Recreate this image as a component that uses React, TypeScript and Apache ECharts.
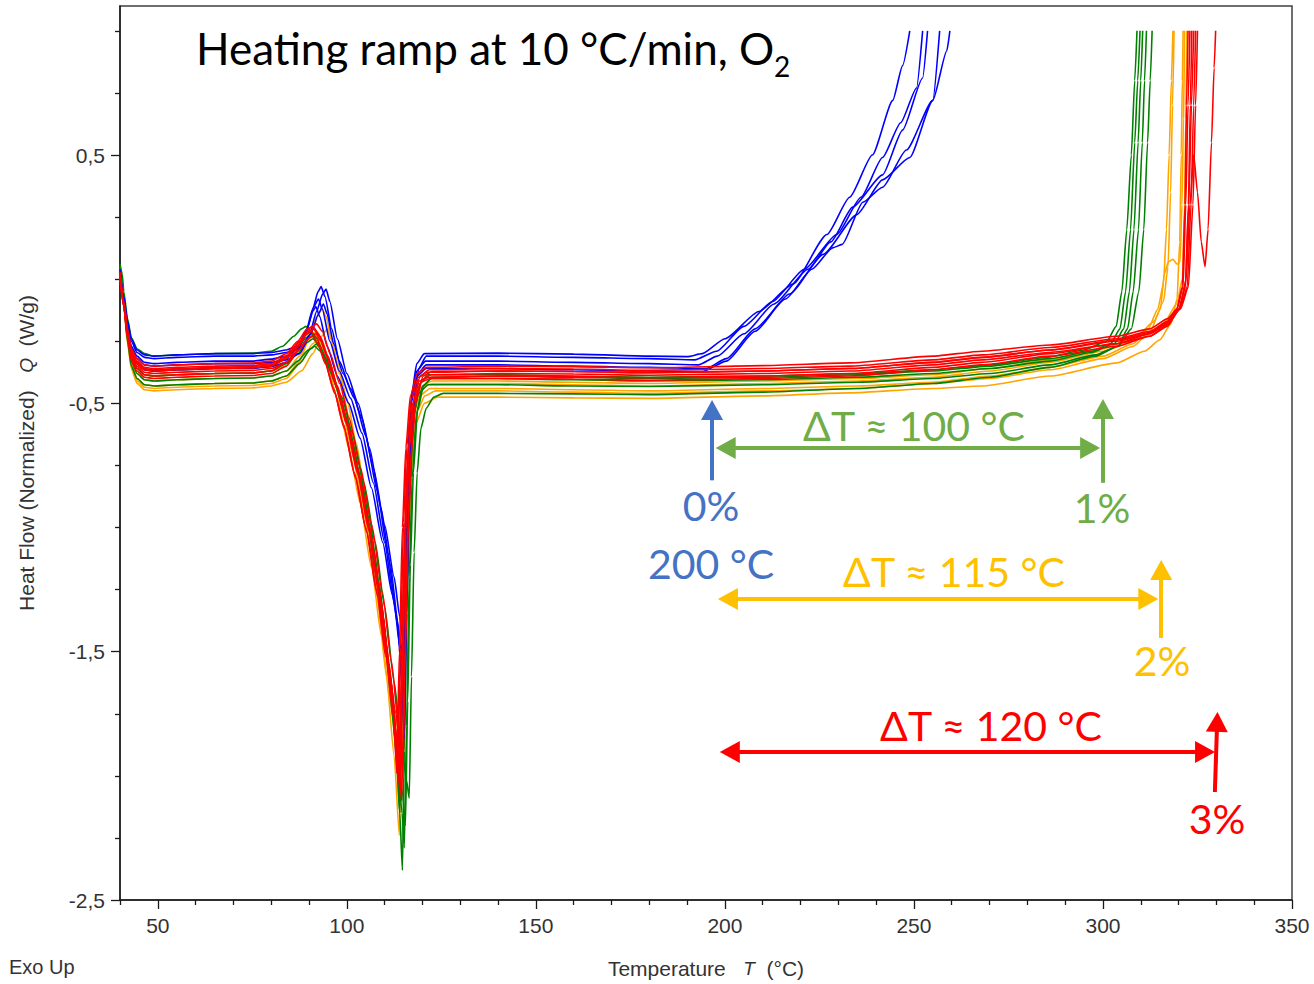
import React, { useEffect, useRef } from "react";
import * as echarts from "echarts";

// ---- DSC traces: [temperature °C, heat flow W/g] ----
// 0 % additive (blue)
const blue1 = [[40,0.04],[41,-0.07],[42,-0.17],[43,-0.24],[44.5,-0.285],[46.5,-0.305],[49,-0.31],[55,-0.305],[65,-0.3],[75,-0.3],[80,-0.295],[84,-0.285],[87,-0.27],[89,-0.22],[91,-0.12],[92.4,-0.05],[93.2,-0.03],[94.2,-0.07],[96,-0.2],[98,-0.33],[101,-0.44],[104,-0.56],[107,-0.76],[110,-0.99],[112.5,-1.2],[114,-1.36],[114.8,-1.45],[115.4,-1.1],[116.1,-0.75],[117,-0.48],[118.5,-0.34],[120.5,-0.3],[140,-0.298],[160,-0.302],[180,-0.31],[190,-0.312],[194,-0.3],[200,-0.24],[209,-0.13],[218,-0.02],[227,0.18],[233,0.33],[239,0.5],[244.4,0.72],[247,0.86],[248.9,1.0]];
const blue2 = [[40,0.03],[41,-0.08],[42,-0.18],[43,-0.25],[44.5,-0.295],[46.5,-0.315],[49,-0.32],[55,-0.315],[65,-0.31],[75,-0.31],[80,-0.305],[84,-0.295],[87.5,-0.28],[90,-0.23],[92,-0.13],[93.6,-0.06],[94.5,-0.04],[95.5,-0.09],[97.5,-0.24],[100,-0.38],[103,-0.5],[106,-0.68],[109,-0.92],[111.5,-1.15],[113.5,-1.38],[114.6,-1.65],[115.2,-1.85],[115.8,-1.35],[116.5,-0.9],[117.4,-0.55],[119,-0.36],[121,-0.31],[140,-0.31],[160,-0.315],[180,-0.32],[192,-0.325],[197.8,-0.29],[205,-0.19],[212.6,-0.09],[221,0.04],[229.6,0.18],[236,0.33],[241.7,0.49],[246.5,0.63],[250.7,0.77],[252.3,1.0]];
const blue3 = [[40,0.02],[41,-0.09],[42,-0.2],[43,-0.27],[44.5,-0.31],[46.5,-0.335],[49,-0.34],[55,-0.335],[65,-0.33],[75,-0.33],[80,-0.322],[84,-0.31],[87,-0.28],[89.5,-0.2],[91.3,-0.11],[92.5,-0.08],[93.5,-0.12],[95.5,-0.25],[98,-0.37],[101,-0.48],[104,-0.62],[107,-0.82],[110,-1.06],[112.5,-1.3],[114,-1.48],[114.5,-1.6],[115.1,-1.2],[115.9,-0.8],[116.9,-0.5],[118.5,-0.37],[120.8,-0.33],[140,-0.33],[160,-0.335],[180,-0.34],[193,-0.345],[198,-0.31],[205,-0.22],[213,-0.1],[222,0.04],[228,0.15],[233.8,0.29],[241.7,0.42],[247,0.6],[252.3,0.81],[253.6,1.0]];
const blue4 = [[40,0.03],[41,-0.09],[42,-0.21],[43,-0.28],[44.5,-0.32],[46.5,-0.345],[49,-0.35],[55,-0.345],[65,-0.34],[75,-0.34],[80,-0.335],[84,-0.325],[87.5,-0.3],[90.5,-0.22],[92.5,-0.14],[93.8,-0.1],[94.8,-0.14],[96.5,-0.26],[99,-0.38],[102,-0.48],[105,-0.63],[108,-0.85],[110.8,-1.1],[113,-1.34],[114.3,-1.52],[115,-1.7],[115.6,-1.25],[116.3,-0.85],[117.2,-0.55],[118.8,-0.38],[121,-0.345],[140,-0.345],[160,-0.35],[180,-0.355],[195,-0.36],[200.4,-0.32],[208,-0.2],[217.1,-0.06],[226,0.1],[234.9,0.26],[241.7,0.4],[248.9,0.49],[255,0.72],[256.8,1.0]];
const blue5 = [[40,0.01],[41,-0.11],[42,-0.23],[43,-0.3],[44.5,-0.34],[46.5,-0.365],[49,-0.37],[55,-0.365],[65,-0.36],[75,-0.36],[80,-0.352],[84,-0.335],[87,-0.29],[89.5,-0.2],[91,-0.13],[91.8,-0.11],[92.8,-0.15],[94.8,-0.27],[97.5,-0.39],[100.5,-0.5],[103.5,-0.64],[106.5,-0.84],[109.5,-1.06],[112,-1.27],[113.8,-1.42],[114.6,-1.52],[115.2,-1.15],[116,-0.78],[117,-0.5],[118.6,-0.39],[121,-0.36],[140,-0.36],[160,-0.365],[180,-0.37],[194,-0.372],[200.4,-0.33],[208,-0.21],[216,-0.08],[223,0.04],[228.5,0.126],[231,0.14],[236.5,0.31],[241.7,0.37],[248,0.52],[255,0.72],[258.7,0.92],[259.5,1.0]];

// 1 % additive (green)
const green1 = [[40,0.06],[40.6,0.02],[41,-0.05],[42,-0.16],[43,-0.235],[44.5,-0.28],[46.5,-0.3],[49,-0.31],[55,-0.305],[65,-0.3],[75,-0.298],[80,-0.29],[83,-0.27],[86,-0.23],[88,-0.2],[89.2,-0.19],[90.5,-0.21],[92.5,-0.27],[95,-0.35],[97,-0.42],[100,-0.56],[103,-0.74],[106,-0.97],[108.5,-1.22],[111,-1.55],[113,-1.9],[114,-2.15],[114.7,-2.38],[115.2,-1.9],[115.9,-1.3],[116.7,-0.85],[117.7,-0.55],[119.3,-0.42],[121.5,-0.385],[140,-0.385],[160,-0.39],[180,-0.395],[210,-0.39],[235,-0.38],[255,-0.365],[270,-0.345],[285,-0.315],[295,-0.285],[301,-0.25],[303.5,-0.19],[305,-0.05],[306.3,0.2],[307.5,0.5],[308.4,0.8],[309,1.0]];
const green2 = [[40,0.04],[41,-0.09],[42,-0.22],[43,-0.31],[44.5,-0.36],[46.5,-0.385],[49,-0.39],[55,-0.385],[65,-0.38],[75,-0.378],[80,-0.37],[84,-0.34],[87,-0.3],[89.5,-0.255],[91,-0.24],[92.5,-0.26],[95,-0.34],[98,-0.46],[101,-0.63],[104,-0.83],[107,-1.08],[109.5,-1.35],[111.8,-1.65],[113.6,-1.98],[114.6,-2.15],[115.2,-2.29],[115.8,-1.8],[116.5,-1.2],[117.3,-0.8],[118.4,-0.54],[120,-0.43],[122.5,-0.4],[140,-0.4],[160,-0.405],[180,-0.41],[210,-0.405],[235,-0.395],[255,-0.38],[270,-0.36],[286,-0.33],[297,-0.295],[303,-0.26],[305.5,-0.2],[307,-0.05],[308.2,0.2],[309.3,0.55],[310,0.8],[310.5,1.0]];
const green3 = [[40,0.05],[41,-0.08],[42,-0.23],[43,-0.33],[44.5,-0.38],[46.5,-0.405],[49,-0.41],[55,-0.405],[65,-0.4],[75,-0.398],[80,-0.39],[84,-0.37],[87,-0.33],[89.8,-0.285],[91.5,-0.27],[93,-0.29],[95.5,-0.36],[98.5,-0.47],[101.5,-0.62],[104.5,-0.82],[107.5,-1.06],[110,-1.32],[112.5,-1.62],[114.5,-1.88],[115.8,-2.02],[116.5,-2.09],[117.1,-1.6],[117.8,-1.1],[118.6,-0.78],[119.6,-0.6],[121,-0.52],[123,-0.475],[125.5,-0.46],[140,-0.46],[160,-0.462],[180,-0.465],[210,-0.455],[235,-0.44],[255,-0.42],[270,-0.395],[286,-0.355],[298,-0.31],[304,-0.27],[307.5,-0.2],[309.5,-0.05],[310.8,0.2],[311.8,0.55],[312.5,0.8],[313,1.0]];
const green4 = [[40,0.03],[41,-0.1],[42,-0.25],[43,-0.35],[44.5,-0.4],[46.5,-0.425],[49,-0.43],[55,-0.425],[65,-0.42],[75,-0.418],[80,-0.41],[84,-0.39],[87.5,-0.34],[90.5,-0.28],[92,-0.26],[93.5,-0.29],[96,-0.38],[99,-0.52],[102,-0.7],[105,-0.93],[107.8,-1.2],[110.2,-1.48],[112.3,-1.78],[113.4,-1.98],[114,-2.15],[114.6,-1.7],[115.4,-1.15],[116.3,-0.78],[117.4,-0.56],[119,-0.46],[121.5,-0.425],[140,-0.425],[160,-0.43],[180,-0.432],[210,-0.425],[235,-0.415],[255,-0.4],[270,-0.38],[286,-0.345],[298,-0.305],[304,-0.27],[306.5,-0.2],[308,-0.05],[309.4,0.2],[310.4,0.55],[311,0.8],[311.5,1.0]];
const green5 = [[40,0.045],[41,-0.08],[42,-0.2],[43,-0.29],[44.5,-0.34],[46.5,-0.365],[49,-0.37],[55,-0.365],[65,-0.36],[75,-0.357],[80,-0.35],[84,-0.32],[87,-0.275],[89.3,-0.235],[90.5,-0.22],[92,-0.24],[94.5,-0.32],[97.5,-0.44],[100.5,-0.6],[103.5,-0.8],[106.5,-1.04],[109,-1.3],[111.5,-1.6],[113.5,-1.9],[114.8,-2.08],[115.5,-2.2],[116.1,-1.7],[116.8,-1.15],[117.6,-0.78],[118.7,-0.53],[120.3,-0.43],[122.5,-0.395],[140,-0.39],[160,-0.395],[180,-0.4],[210,-0.395],[235,-0.385],[255,-0.37],[270,-0.35],[286,-0.32],[297,-0.29],[302,-0.26],[304.5,-0.2],[306,-0.05],[307.3,0.2],[308.4,0.55],[309.2,0.8],[309.8,1.0]];

// 2 % additive (orange)
const orange1 = [[40,0.03],[41,-0.1],[42,-0.24],[43,-0.34],[44.5,-0.4],[46.5,-0.425],[49,-0.43],[55,-0.425],[65,-0.42],[75,-0.418],[80,-0.41],[84,-0.39],[87.5,-0.33],[90,-0.24],[92,-0.15],[93.5,-0.12],[94.5,-0.15],[96,-0.25],[98,-0.38],[100.5,-0.55],[103,-0.76],[105.5,-1.0],[108,-1.28],[110.5,-1.6],[112.5,-1.92],[113.9,-2.24],[114.5,-1.8],[115.2,-1.22],[116.1,-0.82],[117.3,-0.57],[119.2,-0.47],[122,-0.44],[140,-0.44],[160,-0.445],[180,-0.45],[210,-0.44],[235,-0.43],[255,-0.415],[270,-0.39],[286,-0.355],[300,-0.31],[308,-0.26],[312,-0.2],[314.5,-0.12],[316,-0.02],[316.8,0.2],[317.5,0.5],[318.1,0.8],[318.5,1.0]];
const orange2 = [[40,0.02],[41,-0.11],[42,-0.26],[43,-0.36],[44.5,-0.42],[46.5,-0.445],[49,-0.45],[55,-0.445],[65,-0.44],[75,-0.438],[80,-0.43],[84,-0.415],[88,-0.37],[91,-0.3],[93.3,-0.23],[94.8,-0.2],[95.8,-0.24],[97.5,-0.33],[100,-0.48],[102.5,-0.66],[105,-0.88],[107.5,-1.13],[110,-1.42],[112.3,-1.74],[113.7,-1.95],[114.5,-2.1],[115.1,-1.65],[115.9,-1.15],[116.9,-0.78],[118.3,-0.58],[120.5,-0.5],[124,-0.475],[140,-0.475],[160,-0.478],[180,-0.48],[210,-0.47],[233,-0.458],[255,-0.44],[268,-0.43],[286,-0.39],[303.7,-0.337],[311,-0.29],[315,-0.245],[318,-0.18],[319.6,-0.08],[320.3,0.15],[320.7,0.5],[321,0.8],[321.2,1.0]];
const orange3 = [[40,0.04],[41,-0.09],[42,-0.23],[43,-0.32],[44.5,-0.38],[46.5,-0.405],[49,-0.41],[55,-0.405],[65,-0.4],[75,-0.398],[80,-0.39],[84,-0.37],[87.5,-0.31],[90.3,-0.235],[92,-0.21],[93.3,-0.24],[95.3,-0.33],[98,-0.47],[101,-0.66],[104,-0.89],[107,-1.15],[109.7,-1.44],[112,-1.72],[113.3,-1.88],[114,-2.0],[114.6,-1.55],[115.4,-1.05],[116.4,-0.72],[117.7,-0.52],[119.7,-0.44],[122.5,-0.42],[140,-0.42],[160,-0.425],[180,-0.43],[210,-0.42],[235,-0.41],[255,-0.395],[270,-0.37],[286,-0.335],[300,-0.29],[310,-0.24],[316,-0.18],[319.5,-0.1],[321,0.0],[321.6,0.3],[321.9,0.65],[322.2,1.0]];
const orange4 = [[40,0.035],[41,-0.1],[42,-0.25],[43,-0.35],[44.5,-0.41],[46.5,-0.435],[49,-0.44],[55,-0.435],[65,-0.43],[75,-0.428],[80,-0.42],[84,-0.4],[88,-0.33],[91,-0.26],[92.5,-0.24],[93.8,-0.27],[96,-0.37],[98.8,-0.52],[101.8,-0.72],[104.8,-0.96],[107.6,-1.22],[110.2,-1.5],[112.5,-1.74],[114.1,-1.87],[115,-1.95],[115.6,-1.5],[116.4,-1.02],[117.4,-0.7],[118.7,-0.53],[120.6,-0.47],[123.5,-0.45],[140,-0.45],[160,-0.455],[180,-0.46],[210,-0.45],[235,-0.44],[255,-0.42],[270,-0.4],[286,-0.365],[300,-0.32],[308,-0.27],[312.5,-0.21],[315.2,-0.12],[316.2,0.02],[317.3,0.07],[318.5,0.08],[319.6,0.06],[320.4,0.07],[320.9,0.3],[321.3,0.65],[321.6,1.0]];
const orange5 = [[40,0.045],[41,-0.08],[42,-0.21],[43,-0.3],[44.5,-0.355],[46.5,-0.385],[49,-0.39],[55,-0.385],[65,-0.38],[75,-0.378],[80,-0.37],[84,-0.35],[87.3,-0.29],[90,-0.235],[91.5,-0.22],[92.8,-0.25],[94.8,-0.34],[97.5,-0.48],[100.5,-0.68],[103.5,-0.9],[106.5,-1.16],[109.2,-1.44],[111.6,-1.72],[113.4,-1.92],[114.3,-2.05],[114.9,-1.6],[115.7,-1.1],[116.7,-0.74],[118,-0.52],[120,-0.43],[122.5,-0.41],[140,-0.41],[160,-0.415],[180,-0.42],[210,-0.41],[235,-0.4],[255,-0.385],[270,-0.36],[286,-0.325],[300,-0.28],[309,-0.23],[313.5,-0.17],[316,-0.09],[317.2,0.05],[317.9,0.35],[318.4,0.7],[318.8,1.0]];

// 3 % additive (red)
const red1 = [[40,0.02],[41,-0.09],[42,-0.2],[43,-0.28],[44.5,-0.32],[46.5,-0.345],[49,-0.35],[55,-0.345],[65,-0.34],[75,-0.338],[80,-0.33],[84,-0.3],[87,-0.25],[89.5,-0.2],[91,-0.19],[92.5,-0.22],[94.5,-0.3],[97,-0.42],[99.5,-0.55],[102.5,-0.74],[105.5,-0.96],[108.3,-1.22],[110.6,-1.48],[112.3,-1.74],[113.2,-1.99],[113.9,-1.5],[114.7,-1.0],[115.6,-0.68],[116.8,-0.47],[118.6,-0.38],[121,-0.355],[140,-0.35],[160,-0.352],[180,-0.357],[210,-0.348],[233,-0.337],[255,-0.31],[268,-0.29],[286,-0.265],[303.7,-0.23],[312.4,-0.2],[317,-0.16],[319.6,-0.12],[321.2,-0.03],[321.9,0.3],[322.5,0.7],[323,1.0]];
const red2 = [[40,0.01],[41,-0.1],[42,-0.21],[43,-0.29],[44.5,-0.33],[46.5,-0.355],[49,-0.36],[55,-0.355],[65,-0.35],[75,-0.348],[80,-0.34],[84,-0.31],[87.3,-0.255],[89.8,-0.21],[91.4,-0.2],[92.9,-0.23],[95,-0.31],[97.5,-0.43],[100,-0.57],[103,-0.77],[106,-1.0],[108.8,-1.27],[111.2,-1.55],[113,-1.82],[114,-2.06],[114.7,-1.55],[115.5,-1.02],[116.4,-0.69],[117.6,-0.49],[119.4,-0.39],[121.8,-0.365],[140,-0.36],[160,-0.362],[180,-0.367],[210,-0.36],[233,-0.35],[255,-0.325],[268,-0.305],[286,-0.275],[303.7,-0.24],[312.4,-0.21],[317,-0.17],[320,-0.12],[321.8,-0.03],[322.7,0.3],[323.4,0.7],[324,1.0]];
const red3 = [[40,0.0],[41,-0.11],[42,-0.22],[43,-0.3],[44.5,-0.34],[46.5,-0.365],[49,-0.37],[55,-0.365],[65,-0.36],[75,-0.358],[80,-0.35],[84,-0.32],[87,-0.265],[89.2,-0.225],[90.6,-0.21],[92,-0.235],[94,-0.32],[96.5,-0.44],[99,-0.58],[102,-0.78],[105,-1.0],[107.8,-1.25],[110.3,-1.52],[112.3,-1.76],[113.5,-1.95],[114.2,-1.48],[115,-0.98],[115.9,-0.67],[117.1,-0.48],[118.9,-0.395],[121.3,-0.375],[140,-0.37],[160,-0.372],[180,-0.377],[210,-0.37],[233,-0.36],[255,-0.335],[268,-0.315],[286,-0.285],[303.7,-0.25],[312.4,-0.22],[317,-0.18],[320.5,-0.12],[322.6,-0.03],[323.8,0.3],[324.5,0.7],[325,1.0]];
const red4 = [[40,0.015],[41,-0.1],[42,-0.22],[43,-0.31],[44.5,-0.35],[46.5,-0.375],[49,-0.38],[55,-0.375],[65,-0.37],[75,-0.368],[80,-0.36],[84,-0.335],[87.5,-0.28],[90.2,-0.235],[91.8,-0.22],[93.2,-0.25],[95.3,-0.33],[97.8,-0.45],[100.3,-0.59],[103.3,-0.8],[106.3,-1.03],[109,-1.3],[111.5,-1.6],[113.4,-1.88],[114.5,-2.1],[115.2,-1.6],[116,-1.05],[116.9,-0.72],[118.1,-0.5],[119.9,-0.405],[122.3,-0.385],[140,-0.38],[160,-0.382],[180,-0.387],[210,-0.38],[233,-0.37],[255,-0.345],[268,-0.325],[286,-0.295],[303.7,-0.26],[312.4,-0.23],[317,-0.19],[320.3,-0.12],[322,0.0],[323,0.3],[324,0.5],[325,0.35],[326,0.15],[327,0.05],[327.8,0.2],[328.7,0.55],[329.4,0.85],[329.8,1.0]];
const red5 = [[40,0.03],[41,-0.1],[42,-0.23],[43,-0.32],[44.5,-0.36],[46.5,-0.385],[49,-0.39],[55,-0.385],[65,-0.38],[75,-0.378],[80,-0.37],[84,-0.335],[87.2,-0.27],[89.7,-0.215],[91.2,-0.2],[92.7,-0.23],[94.8,-0.315],[97.3,-0.435],[99.8,-0.58],[102.8,-0.78],[105.8,-1.01],[108.6,-1.28],[111,-1.56],[112.8,-1.8],[113.8,-2.02],[114.5,-1.52],[115.3,-1.0],[116.2,-0.69],[117.4,-0.5],[119.2,-0.41],[121.6,-0.395],[140,-0.39],[160,-0.392],[180,-0.397],[210,-0.39],[233,-0.38],[255,-0.355],[268,-0.335],[286,-0.3],[303.7,-0.26],[312.4,-0.22],[316.5,-0.18],[319.5,-0.12],[321,-0.03],[321.7,0.3],[322.1,0.7],[322.5,1.0]];
const red6 = [[40,0.005],[41,-0.11],[42,-0.24],[43,-0.33],[44.5,-0.37],[46.5,-0.395],[49,-0.4],[55,-0.395],[65,-0.39],[75,-0.388],[80,-0.38],[84,-0.35],[87,-0.29],[89.4,-0.245],[90.8,-0.23],[92.2,-0.255],[94.3,-0.34],[96.8,-0.46],[99.3,-0.6],[102.3,-0.8],[105.3,-1.02],[108.2,-1.28],[110.8,-1.54],[112.9,-1.74],[114.2,-1.9],[114.9,-1.45],[115.7,-0.97],[116.6,-0.67],[117.8,-0.49],[119.6,-0.415],[122,-0.4],[140,-0.4],[160,-0.402],[180,-0.407],[210,-0.4],[233,-0.39],[255,-0.365],[268,-0.345],[286,-0.31],[303.7,-0.27],[312.4,-0.23],[317,-0.185],[320.2,-0.12],[321.8,-0.03],[322.6,0.3],[323.1,0.7],[323.5,1.0]];
const red7 = [[40,0.025],[41,-0.09],[42,-0.21],[43,-0.29],[44.5,-0.335],[46.5,-0.36],[49,-0.365],[55,-0.36],[65,-0.355],[75,-0.352],[80,-0.345],[84,-0.315],[87.5,-0.25],[90.4,-0.195],[92,-0.18],[93.5,-0.21],[95.6,-0.3],[98.1,-0.42],[100.6,-0.56],[103.6,-0.76],[106.6,-0.99],[109.4,-1.26],[111.8,-1.54],[113.7,-1.8],[114.8,-2.0],[115.5,-1.5],[116.3,-0.98],[117.2,-0.67],[118.4,-0.48],[120.2,-0.39],[122.6,-0.372],[140,-0.37],[160,-0.372],[180,-0.377],[210,-0.37],[233,-0.36],[255,-0.335],[268,-0.315],[286,-0.285],[303.7,-0.245],[312.4,-0.215],[317,-0.175],[320.5,-0.115],[322.3,-0.03],[323.3,0.3],[324,0.7],[324.5,1.0]];

const orangeRuns = [orange1, orange2, orange3, orange4, orange5];
const greenRuns = [green1, green2, green3, green4, green5];
const blueRuns = [blue1, blue2, blue3, blue4, blue5];
const redRuns = [red1, red2, red3, red4, red5, red6, red7];

// ---- axis ticks ----
const xMajorTicks = [50, 100, 150, 200, 250, 300, 350];
const xMinorTicks = [40, 60, 70, 80, 90, 110, 120, 130, 140, 160, 170, 180, 190, 210, 220, 230, 240, 260, 270, 280, 290, 310, 320, 330, 340];
const yMajorTicks = [-2.5, -1.5, -0.5, 0.5];
const yMinorTicks = [-2.25, -2, -1.75, -1.25, -1, -0.75, -0.25, 0, 0.25, 0.75, 1];

// ---- onset annotations: [start, end] in (°C, W/g); end carries the arrow head ----
const onsetArrows = [
  { color: "#4472C4", from: [196.6, -0.81], to: [196.6, -0.527], heads: "end" },
  { color: "#70AD47", from: [200.2, -0.68], to: [296.6, -0.68], heads: "both" },
  { color: "#70AD47", from: [300.0, -0.82], to: [300.0, -0.523], heads: "end" },
  { color: "#FFC000", from: [200.8, -1.288], to: [312.0, -1.288], heads: "both" },
  { color: "#FFC000", from: [315.4, -1.445], to: [315.4, -1.171], heads: "end" },
  { color: "#FF0000", from: [201.3, -1.904], to: [327.0, -1.904], heads: "both" },
  { color: "#FF0000", from: [329.6, -2.065], to: [330.2, -1.783], heads: "end" },
];

const FONT_AXIS = "'Liberation Sans', Arial, sans-serif";
const FONT_NOTE = "Lato, 'Open Sans', sans-serif";
const AXIS_FS = 21;

const commaFmt = (v: number) => String(v).replace(".", ",");

function traceSeries(runs: number[][][], color: string, tag: string) {
  return runs.map((data, i) => ({
    name: `${tag}-${i + 1}`,
    type: "line",
    data,
    showSymbol: false,
    symbol: "none",
    smooth: 0.2,
    smoothMonotone: "x",
    lineStyle: { color, width: 1.6 },
    z: 2,
  }));
}

export default function App() {
  const ref = useRef<HTMLDivElement>(null);

  useEffect(() => {
    document.body.style.margin = "0";
    if (!ref.current) return;
    const chart = echarts.init(ref.current, undefined, { renderer: "svg" });

    const markData = onsetArrows.map((a) => [
      { coord: a.from, symbol: a.heads === "both" ? "triangle" : "none", lineStyle: { color: a.color } },
      { coord: a.to, symbol: "triangle", lineStyle: { color: a.color } },
    ]);

    const noteText = (text: string, x: number, y: number, fill: string) => ({
      type: "text",
      x,
      y,
      z: 100,
      style: {
        text,
        fill,
        font: `41px ${FONT_NOTE}`,
        textAlign: "center",
        verticalAlign: "middle",
      },
    });

    const axisName = {
      fontSize: AXIS_FS,
      color: "#333",
      fontFamily: FONT_AXIS,
      rich: { i: { fontStyle: "italic", fontSize: AXIS_FS - 2, color: "#333", fontFamily: FONT_AXIS } },
    };

    const option: any = {
      animation: false,
      grid: {
        left: 120,
        right: 22,
        top: 6,
        bottom: 84,
        show: true,
        borderColor: "#404040",
        borderWidth: 1.5,
        containLabel: false,
      },
      xAxis: [
        {
          type: "value",
          min: 40,
          max: 350,
          position: "bottom",
          axisLine: { show: true, onZero: false, lineStyle: { color: "#1a1a1a", width: 1.5 } },
          axisTick: { show: true, customValues: xMajorTicks, length: 9, lineStyle: { color: "#1a1a1a", width: 1.3 } },
          axisLabel: { customValues: xMajorTicks, fontSize: AXIS_FS, color: "#333", margin: 15, fontFamily: FONT_AXIS },
          splitLine: { show: false },
          name: "Temperature   {i|T}  (°C)",
          nameLocation: "middle",
          nameGap: 58,
          nameTextStyle: axisName,
        },
        {
          type: "value",
          min: 40,
          max: 350,
          position: "bottom",
          axisLine: { show: false, onZero: false },
          axisTick: { show: true, customValues: xMinorTicks, length: 5, lineStyle: { color: "#1a1a1a", width: 1.3 } },
          axisLabel: { show: false },
          splitLine: { show: false },
        },
      ],
      yAxis: [
        {
          type: "value",
          min: -2.5,
          max: 1.1,
          position: "left",
          axisLine: { show: true, onZero: false, lineStyle: { color: "#1a1a1a", width: 1.5 } },
          axisTick: { show: true, customValues: yMajorTicks, length: 9, lineStyle: { color: "#1a1a1a", width: 1.3 } },
          axisLabel: { customValues: yMajorTicks, formatter: commaFmt, fontSize: AXIS_FS, color: "#333", margin: 15, fontFamily: FONT_AXIS },
          splitLine: { show: false },
          name: "Heat Flow (Normalized)   {i|Q}  (W/g)",
          nameLocation: "middle",
          nameGap: 83,
          nameTextStyle: axisName,
        },
        {
          type: "value",
          min: -2.5,
          max: 1.1,
          position: "left",
          axisLine: { show: false, onZero: false },
          axisTick: { show: true, customValues: yMinorTicks, length: 5, lineStyle: { color: "#1a1a1a", width: 1.3 } },
          axisLabel: { show: false },
          splitLine: { show: false },
        },
      ],
      series: [
        ...traceSeries(orangeRuns, "#FFA500", "2%"),
        ...traceSeries(greenRuns, "#008000", "1%"),
        ...traceSeries(blueRuns, "#0000FF", "0%"),
        ...traceSeries(redRuns, "#FF0000", "3%"),
        {
          name: "onset",
          type: "line",
          data: [],
          silent: true,
          z: 10,
          markLine: {
            silent: true,
            animation: false,
            symbolSize: [22, 20],
            label: { show: false },
            lineStyle: { width: 4, type: "solid" },
            emphasis: { disabled: true },
            data: markData,
          },
        },
      ],
      graphic: [
        {
          type: "text",
          x: 196,
          y: 48,
          z: 100,
          style: {
            text: "Heating ramp at 10 °C/min, O",
            fill: "#000",
            font: `44px ${FONT_NOTE}`,
            textAlign: "left",
            verticalAlign: "middle",
          },
        },
        {
          type: "text",
          x: 774,
          y: 66,
          z: 100,
          style: {
            text: "2",
            fill: "#000",
            font: `28px ${FONT_NOTE}`,
            textAlign: "left",
            verticalAlign: "middle",
          },
        },
        noteText("0%", 711, 505, "#4472C4"),
        noteText("200 °C", 711, 563, "#4472C4"),
        noteText("ΔT ≈ 100 °C", 914, 425, "#70AD47"),
        noteText("1%", 1102, 507, "#70AD47"),
        noteText("ΔT ≈ 115 °C", 954, 571, "#FFC000"),
        noteText("2%", 1162, 660, "#FFC000"),
        noteText("ΔT ≈ 120 °C", 991, 725, "#FF0000"),
        noteText("3%", 1217, 818, "#FF0000"),
        {
          type: "text",
          x: 9,
          y: 967,
          style: {
            text: "Exo Up",
            fill: "#333",
            font: `20px ${FONT_AXIS}`,
            textAlign: "left",
            verticalAlign: "middle",
          },
        },
      ],
    };

    chart.setOption(option);
    return () => chart.dispose();
  }, []);

  return <div ref={ref} style={{ width: 1314, height: 984 }} />;
}
